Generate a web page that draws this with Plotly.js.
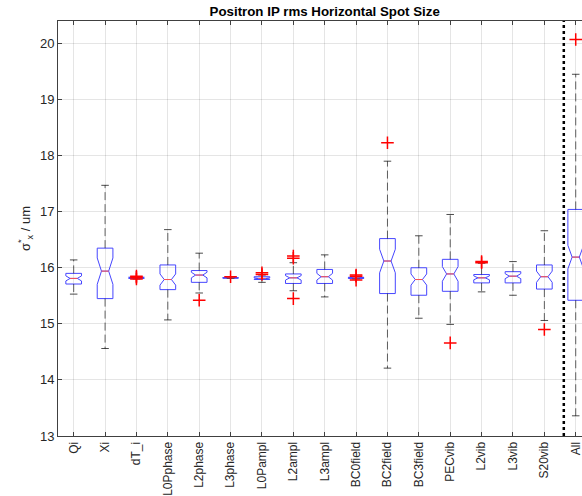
<!DOCTYPE html>
<html>
<head>
<meta charset="utf-8">
<script src="https://cdn.plot.ly/plotly-3.0.1.min.js"></script>
<style>html,body{margin:0;padding:0;background:#fff;}#chart{width:582px;height:496px;}</style>
</head>
<body>
<div id="chart"></div>
<script>
// ---- data ----
var categories = ['Qi','Xi','dT_i','L0Pphase','L2phase','L3phase','L0Pampl','L2ampl','L3ampl','BC0field','BC2field','BC3field','PECvib','L2vib','L3vib','S20vib','All'];
var q1        = [15.71,15.45,15.81,15.61,15.74,15.815,15.79,15.72,15.72,15.81,15.54,15.51,15.58,15.73,15.73,15.62,15.42];
var medians   = [15.81,15.94,15.82,15.79,15.87,15.82,15.81,15.82,15.84,15.82,16.12,15.79,15.89,15.82,15.85,15.84,16.19];
var q3        = [15.90,16.35,15.83,16.05,15.95,15.825,15.84,15.89,15.97,15.83,16.52,16.00,16.15,15.88,15.93,16.05,17.04];
var notchSpan = [0.045,0.235,0.01,0.10,0.05,0.005,0.012,0.04,0.06,0.005,0.21,0.10,0.13,0.035,0.045,0.10,0.21];
var whiskerLow  = [15.53,14.56,15.80,15.07,15.55,15.81,15.74,15.59,15.48,15.80,14.21,15.10,14.99,15.57,15.51,15.06,13.36];
var whiskerHigh = [16.14,17.47,15.84,16.68,16.26,15.83,15.87,16.09,16.23,15.84,17.90,16.57,16.95,16.08,16.11,16.66,19.45];
var outlierCat = ['dT_i','dT_i','dT_i','L2phase','L3phase','L0Pampl','L0Pampl','L2ampl','L2ampl','L2ampl','BC0field','BC0field','BC0field','BC2field','PECvib','L2vib','L2vib','S20vib','All'];
var outlierVal = [15.80,15.83,15.85,15.42,15.84,15.91,15.88,16.21,16.17,15.45,15.87,15.85,15.78,18.23,14.66,16.11,16.09,14.90,20.07];
var yTicks = [13,14,15,16,17,18,19,20];

// ---- styling constants ----
var BOX_W = 0.5, CAP_HALF = 0.12, NOTCH_W = 0.27;
var DIVIDER_X = 16.62;
var FONT = 'Liberation Sans, Arial, Helvetica, sans-serif';

var pos = categories.map(function(c,i){return i+1;});
var idx = {}; categories.forEach(function(c,i){idx[c]=i+1;});

var boxTrace = {
  type:'box', x:pos, q1:q1, median:medians, q3:q3,
  lowerfence:q1, upperfence:q3, notchspan:notchSpan,
  notched:true, notchwidth:NOTCH_W, width:BOX_W, whiskerwidth:0,
  boxpoints:false, fillcolor:'rgba(0,0,0,0)',
  line:{color:'rgb(70,70,255)', width:1}, hoverinfo:'skip', showlegend:false
};

var wx=[], wy=[], cx=[], cy=[], mx=[], my=[];
var hw = BOX_W/2*(1-2*NOTCH_W);
pos.forEach(function(p,i){
  wx.push(p,p,null,p,p,null); wy.push(q3[i],whiskerHigh[i],null,q1[i],whiskerLow[i],null);
  cx.push(p-CAP_HALF,p+CAP_HALF,null,p-CAP_HALF,p+CAP_HALF,null);
  cy.push(whiskerHigh[i],whiskerHigh[i],null,whiskerLow[i],whiskerLow[i],null);
  mx.push(p-hw,p+hw,null); my.push(medians[i],medians[i],null);
});

var whiskers = {type:'scatter', mode:'lines', x:wx, y:wy, line:{color:'rgba(0,0,0,0.6)', width:1, dash:'8px,4px'}, hoverinfo:'skip', showlegend:false};
var caps = {type:'scatter', mode:'lines', x:cx, y:cy, line:{color:'rgba(0,0,0,0.7)', width:1}, hoverinfo:'skip', showlegend:false};
var medLine = {type:'scatter', mode:'lines', x:mx, y:my, line:{color:'rgb(255,80,80)', width:1}, hoverinfo:'skip', showlegend:false};
var outl = {type:'scatter', mode:'markers', x:outlierCat.map(function(c){return idx[c];}), y:outlierVal,
  marker:{symbol:'cross-thin', size:9, line:{color:'rgb(255,0,0)', width:1.5}, color:'rgb(255,0,0)'}, hoverinfo:'skip', showlegend:false};

var layout = {
  width:582, height:496,
  margin:{l:58, r:0, t:21, b:60},
  paper_bgcolor:'#fff', plot_bgcolor:'#fff',
  font:{family:FONT, size:12, color:'#262626'},
  title:{text:'<b>Positron IP rms Horizontal Spot Size</b>', font:{family:FONT, size:13.3, color:'#000'},
         x:0.509, xref:'paper', xanchor:'center', y:0.978, yref:'container', yanchor:'middle'},
  xaxis:{range:[0.5,17.2], tickmode:'array', tickvals:pos, ticktext:categories, tickangle:-90,
         ticklabeloverflow:'allow',
         showgrid:true, gridcolor:'rgba(0,0,0,0.1)', gridwidth:1, zeroline:false,
         showline:true, linecolor:'#404040', linewidth:1, mirror:'ticks',
         ticks:'inside', ticklen:4, tickcolor:'#404040', tickfont:{size:12, color:'#262626'}},
  yaxis:{range:[13,20.4], tickmode:'array', tickvals:yTicks,
         showgrid:true, gridcolor:'rgba(0,0,0,0.1)', gridwidth:1, zeroline:false,
         showline:true, linecolor:'#404040', linewidth:1,
         ticks:'inside', ticklen:4, tickcolor:'#404040', tickfont:{size:13, color:'#262626'},
         title:{text:'σ<sup>*</sup><sub>x</sub> / um', font:{size:13, color:'#262626'}, standoff:6}},
  shapes:[{type:'line', xref:'x', yref:'paper', x0:DIVIDER_X, x1:DIVIDER_X, y0:0, y1:1,
           line:{color:'#000', width:2.5, dash:'dot'}}]
};

Plotly.newPlot('chart', [boxTrace, whiskers, caps, medLine, outl], layout, {displayModeBar:false, staticPlot:true});
</script>
</body>
</html>
